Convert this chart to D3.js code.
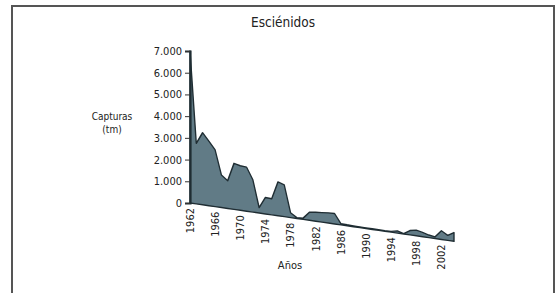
<!DOCTYPE html>
<html>
<head>
<meta charset="utf-8">
<script src="https://cdn.jsdelivr.net/npm/d3@7"></script>
<style>
  html, body { margin: 0; padding: 0; background: #fff; }
  svg { display: block; font-family: "DejaVu Sans Condensed", "DejaVu Sans", sans-serif; }
</style>
</head>
<body>
<div id="chart"></div>
<script>
const TITLE = "Esciénidos";
const Y_TITLE = ["Capturas", "(tm)"];
const X_TITLE = "Años";

const years = d3.range(1962, 2005);
const capturas = [
  7000, 2790, 3320, 2980, 2610, 1500, 1280, 2120, 2050, 2030,
  1490, 250, 760, 740, 1560, 1460, 220, 40, 60, 370,
  410, 440, 470, 480, 60, 45, 40, 35, 30, 30,
  25, 25, 35, 100, 20, 200, 260, 200, 120, 80,
  400, 230, 400
];
const yTicks = [0, 1000, 2000, 3000, 4000, 5000, 6000, 7000];
const xTickYears = d3.range(1962, 2003, 4);

const W = 556, H = 293;
const x0 = 190, yTop = 51, yBase = 203;   // axis corner
const plotW = 264;
const slope = 0.145;                       // floor tilt of the 3D-look baseline
const textColor = "#222";
const fillColor = "#617b86";
const edgeColor = "#1f2d33";

const nf = d3.formatLocale({ decimal: ",", thousands: ".", grouping: [3], currency: ["", ""] }).format(",");

const x = d3.scaleLinear().domain([1962, 2004]).range([0, plotW]);
const y = d3.scaleLinear().domain([0, 7000]).range([yBase - yTop, 0]);

const svg = d3.select("#chart").append("svg").attr("width", W).attr("height", H);

// outer frame
svg.append("rect")
  .attr("x", 12).attr("y", 6).attr("width", 542).attr("height", 300)
  .attr("fill", "none").attr("stroke", "#555").attr("stroke-width", 2);

svg.append("text")
  .attr("x", 283).attr("y", 27)
  .attr("text-anchor", "middle").attr("font-size", 13.5).attr("fill", textColor)
  .text(TITLE);

// area, drawn in a skewed frame so the zero line slopes down to the right
const g = svg.append("g")
  .attr("transform", `translate(${x0},${yTop}) matrix(1,${slope},0,1,0,0)`);

const area = d3.area()
  .x((d, i) => x(years[i]))
  .y0(y(0))
  .y1(d => y(d));

g.append("path")
  .datum(capturas)
  .attr("d", area)
  .attr("fill", fillColor)
  .attr("stroke", edgeColor)
  .attr("stroke-width", 1.4)
  .attr("stroke-linejoin", "round");

// y axis
const yAxis = svg.append("g")
  .attr("transform", `translate(${x0},${yTop})`)
  .call(d3.axisLeft(y).tickValues(yTicks).tickFormat(nf).tickSize(5).tickPadding(3));
yAxis.select(".domain").attr("stroke", edgeColor).attr("stroke-width", 2.2);
yAxis.selectAll(".tick line").attr("stroke", "#333");
yAxis.selectAll("text")
  .attr("font-size", 11).attr("fill", textColor)
  .attr("font-family", "\"DejaVu Sans Condensed\", \"DejaVu Sans\", sans-serif");

// y title
svg.append("text")
  .attr("x", 112).attr("text-anchor", "middle")
  .attr("font-size", 10).attr("fill", textColor)
  .selectAll("tspan").data(Y_TITLE).join("tspan")
  .attr("x", 112).attr("y", (d, i) => 120 + i * 13)
  .text(d => d);

// x tick labels along the tilted baseline
svg.append("g").selectAll("text")
  .data(xTickYears).join("text")
  .attr("transform", d => {
    const px = x0 + x(d);
    const py = yBase + slope * x(d) + 5;
    return `translate(${px},${py}) rotate(-90)`;
  })
  .attr("text-anchor", "end")
  .attr("dy", "0.35em")
  .attr("font-size", 11).attr("fill", textColor)
  .text(d => d);

svg.append("text")
  .attr("x", 290).attr("y", 269)
  .attr("text-anchor", "middle").attr("font-size", 11).attr("fill", textColor)
  .text(X_TITLE);
</script>
</body>
</html>
